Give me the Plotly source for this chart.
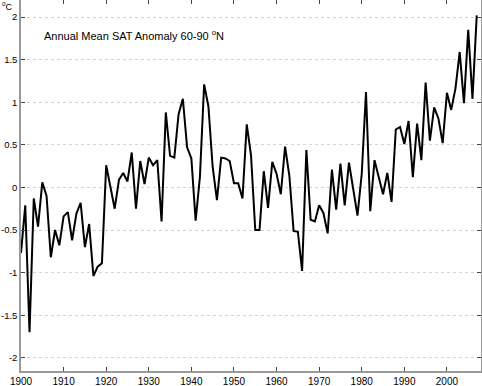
import plotly.graph_objects as go

years = list(range(1900, 2008))
anomaly = [
    -0.77, -0.21, -1.70, -0.13, -0.46, 0.06, -0.10, -0.82, -0.50, -0.68,   # 1900-1909
    -0.34, -0.29, -0.62, -0.31, -0.18, -0.70, -0.43, -1.04, -0.93, -0.89,  # 1910-1919
    0.26, 0.00, -0.25, 0.09, 0.17, 0.07, 0.41, -0.25, 0.31, 0.04,          # 1920-1929
    0.35, 0.26, 0.32, -0.40, 0.88, 0.37, 0.35, 0.86, 1.04, 0.47,           # 1930-1939
    0.34, -0.39, 0.12, 1.21, 0.95, 0.24, -0.15, 0.35, 0.34, 0.31,          # 1940-1949
    0.05, 0.05, -0.13, 0.74, 0.38, -0.50, -0.50, 0.19, -0.24, 0.30,        # 1950-1959
    0.16, -0.08, 0.48, 0.14, -0.51, -0.52, -0.98, 0.44, -0.38, -0.40,      # 1960-1969
    -0.21, -0.30, -0.54, 0.21, -0.26, 0.28, -0.21, 0.29, -0.01, -0.33,     # 1970-1979
    0.16, 1.12, -0.28, 0.32, 0.12, -0.08, 0.17, -0.17, 0.68, 0.71,         # 1980-1989
    0.51, 0.78, 0.12, 0.75, 0.32, 1.23, 0.55, 0.94, 0.81, 0.52,            # 1990-1999
    1.11, 0.91, 1.16, 1.59, 0.99, 1.85, 1.04, 2.02,                        # 2000-2007
]
x_ticks = list(range(1900, 2001, 10))
x_ticktext = [str(v) for v in x_ticks]
y_ticks = [-2, -1.5, -1, -0.5, 0, 0.5, 1, 1.5, 2]
y_ticktext = ["-2", "-1.5", "-1", "-0.5", "0", "0.5", "1", "1.5", "2"]

font = "Liberation Sans, Arial, Helvetica, sans-serif"

fig = go.Figure()
fig.add_trace(go.Scatter(x=years, y=anomaly, mode="lines",
                         line=dict(color="black", width=2), showlegend=False))

fig.update_layout(
    width=482, height=386,
    margin=dict(l=21, r=1, t=0, b=15),
    paper_bgcolor="white", plot_bgcolor="white",
    font=dict(family=font, size=11, color="black"),
    xaxis=dict(range=[1900, 2008], tickvals=x_ticks, ticktext=x_ticktext,
               tickfont=dict(size=10),
               showgrid=False, zeroline=False, showline=True, linecolor="#999",
               linewidth=1.5, mirror="ticks", ticks="inside", ticklen=4,
               tickcolor="#444", automargin=False, ticklabelstandoff=0),
    yaxis=dict(range=[-2.155, 2.2], tickvals=y_ticks, ticktext=y_ticktext,
               tickfont=dict(size=9.5),
               showgrid=True, gridcolor="#d4d4d4", griddash="dot", gridwidth=1,
               zeroline=False, showline=True, linecolor="#999", linewidth=1.5,
               mirror="ticks", ticks="inside", ticklen=4, tickcolor="#444",
               automargin=False, ticklabelstandoff=0),
    annotations=[
        dict(text="Annual Mean SAT Anomaly 60-90 <sup>o</sup>N", xref="paper", yref="paper",
             x=0.045, y=0.906, xanchor="left", yanchor="middle", showarrow=False,
             font=dict(family=font, size=11, color="black")),
        dict(text="<sup>o</sup>C", xref="paper", yref="paper",
             x=-0.045, y=1.005, xanchor="left", yanchor="top", showarrow=False,
             font=dict(family=font, size=9, color="black")),
    ],
)

fig.write_html("out.html", config={"displayModeBar": False},
               post_script="document.body.style.margin='0px';document.body.style.padding='0px';")
